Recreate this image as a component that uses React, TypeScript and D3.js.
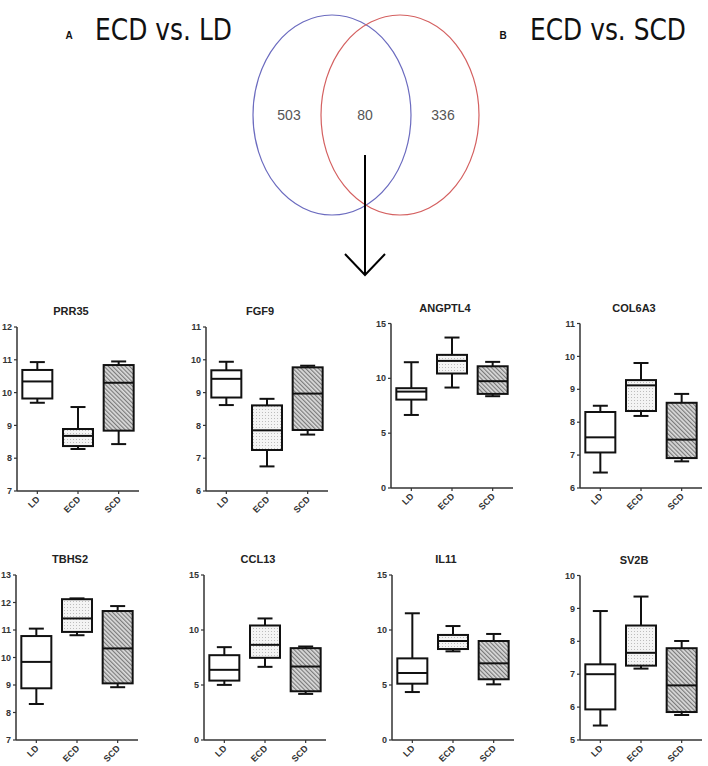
import React from 'react';
import * as d3 from 'd3';

// groups on each x axis
const groups = ['LD', 'ECD', 'SCD'];

// gene names, in reading order
const genes = ['PRR35', 'FGF9', 'ANGPTL4', 'COL6A3', 'TBHS2', 'CCL13', 'IL11', 'SV2B'];

// box stats per group: [min, q1, median, q3, max]
const prr35 = [[9.69, 9.82, 10.34, 10.69, 10.93], [8.28, 8.37, 8.68, 8.89, 9.56], [8.43, 8.84, 10.3, 10.84, 10.95]];
const fgf9 = [[8.62, 8.85, 9.42, 9.68, 9.94], [6.75, 7.25, 7.85, 8.61, 8.81], [7.72, 7.86, 8.97, 9.77, 9.82]];
const angptl4 = [[6.66, 8.06, 8.79, 9.1, 11.47], [9.16, 10.44, 11.59, 12.14, 13.72], [8.37, 8.58, 9.74, 11.1, 11.5]];
const col6a3 = [[6.47, 7.08, 7.54, 8.31, 8.5], [8.19, 8.34, 9.12, 9.28, 9.8], [6.81, 6.91, 7.47, 8.59, 8.86]];
const tbhs2 = [[8.31, 8.88, 9.84, 10.78, 11.05], [10.81, 10.93, 11.42, 12.12, 12.15], [8.92, 9.06, 10.33, 11.69, 11.87]];
const ccl13 = [[5.01, 5.4, 6.38, 7.71, 8.44], [6.65, 7.47, 8.65, 10.41, 11.05], [4.19, 4.43, 6.68, 8.35, 8.5]];
const il11 = [[4.36, 5.12, 6.09, 7.42, 11.52], [8.06, 8.27, 9.0, 9.55, 10.36], [5.06, 5.52, 6.97, 9.0, 9.64]];
const sv2b = [[5.44, 5.93, 7.0, 7.3, 8.92], [7.17, 7.26, 7.65, 8.48, 9.36], [5.76, 5.85, 6.66, 7.79, 8.01]];

const stats = [prr35, fgf9, angptl4, col6a3, tbhs2, ccl13, il11, sv2b];

// y axis ranges and tick steps
const yMin = [7, 6, 0, 6, 7, 0, 0, 5];
const yMax = [12, 11, 15, 11, 13, 15, 15, 10];
const yStep = [1, 1, 5, 1, 1, 5, 5, 1];

// venn counts: only A, overlap, only B
const vennCounts = [503, 80, 336];
const vennTitles = ['ECD vs. LD', 'ECD vs. SCD'];
const vennLetters = ['A', 'B'];

// layout
const axisX = [17, 206, 391, 580, 16, 204, 392, 580];
const axisTop = [327, 327, 323.5, 323.5, 575, 575, 575, 575.5];
const axisBottom = [491, 491, 488, 488, 740, 740, 740, 740];
const axisW = 122;
const boxW = 30;
const capW = 15;
const font = '"Liberation Sans", Arial, sans-serif';
const fills = ['#ffffff', 'url(#dots)', 'url(#hatch)'];

function Panel({ i }: { i: number }) {
  const x0 = axisX[i];
  const top = axisTop[i];
  const bottom = axisBottom[i];
  const y = d3.scaleLinear().domain([yMin[i], yMax[i]]).range([bottom, top]);
  const x = d3.scalePoint().domain(groups).range([x0, x0 + axisW]).padding(0.5);
  const ticks = d3.range(yMin[i], yMax[i] + 0.001, yStep[i]);
  return (
    <g>
      <text x={x0 + 54} y={top - 12} textAnchor="middle" fontFamily={font} fontWeight="bold" fontSize={11} fill="#222">
        {genes[i]}
      </text>
      <line x1={x0} x2={x0} y1={top} y2={bottom} stroke="#333" strokeWidth={1.5} />
      <line x1={x0} x2={x0 + axisW} y1={bottom} y2={bottom} stroke="#333" strokeWidth={1.5} />
      {ticks.map(t => (
        <g key={t}>
          <line x1={x0 - 3} x2={x0} y1={y(t)} y2={y(t)} stroke="#333" strokeWidth={1.2} />
          <text x={x0 - 5} y={y(t)} dy="0.35em" textAnchor="end" fontFamily={font} fontWeight="bold" fontSize={9} fill="#333">
            {t}
          </text>
        </g>
      ))}
      {groups.map((g, k) => {
        const cx = x(g) || 0;
        const [lo, q1, med, q3, hi] = stats[i][k];
        return (
          <g key={g}>
            <line x1={cx} x2={cx} y1={bottom} y2={bottom + 3} stroke="#333" strokeWidth={1.2} />
            <text
              transform={`translate(${cx + 3},${bottom + 9}) rotate(-45)`}
              textAnchor="end"
              fontFamily={font}
              fontWeight="bold"
              fontSize={9}
              fill="#333"
            >
              {g}
            </text>
            <line x1={cx} x2={cx} y1={y(hi)} y2={y(q3)} stroke="#111" strokeWidth={2} />
            <line x1={cx} x2={cx} y1={y(q1)} y2={y(lo)} stroke="#111" strokeWidth={2} />
            <line x1={cx - capW / 2} x2={cx + capW / 2} y1={y(hi)} y2={y(hi)} stroke="#111" strokeWidth={2} />
            <line x1={cx - capW / 2} x2={cx + capW / 2} y1={y(lo)} y2={y(lo)} stroke="#111" strokeWidth={2} />
            <rect x={cx - boxW / 2} y={y(q3)} width={boxW} height={y(q1) - y(q3)} fill={fills[k]} stroke="#111" strokeWidth={2} />
            <line x1={cx - boxW / 2} x2={cx + boxW / 2} y1={y(med)} y2={y(med)} stroke="#111" strokeWidth={2} />
          </g>
        );
      })}
    </g>
  );
}

function Venn() {
  return (
    <g>
      <ellipse cx={332} cy={115} rx={79} ry={100} fill="none" stroke="#6b6bbf" strokeWidth={1.2} />
      <ellipse cx={400} cy={115} rx={79} ry={100} fill="none" stroke="#d46060" strokeWidth={1.2} />
      {[289, 365, 443].map((vx, k) => (
        <text key={k} x={vx} y={115} dy="0.35em" textAnchor="middle" fontFamily={font} fontSize={14} fill="#555">
          {vennCounts[k]}
        </text>
      ))}
      <text x={69} y={39} textAnchor="middle" fontFamily={font} fontWeight="bold" fontSize={10} fill="#111">
        {vennLetters[0]}
      </text>
      <text
        transform="translate(95,40) scale(1,1.2)"
        fontFamily={'"DejaVu Sans", sans-serif'}
        fontSize={25}
        textLength={137}
        lengthAdjust="spacingAndGlyphs"
        fill="#111"
      >
        {vennTitles[0]}
      </text>
      <text x={503} y={39} textAnchor="middle" fontFamily={font} fontWeight="bold" fontSize={10} fill="#111">
        {vennLetters[1]}
      </text>
      <text
        transform="translate(530,40) scale(1,1.2)"
        fontFamily={'"DejaVu Sans", sans-serif'}
        fontSize={25}
        textLength={156}
        lengthAdjust="spacingAndGlyphs"
        fill="#111"
      >
        {vennTitles[1]}
      </text>
      <line x1={365} x2={365} y1={155} y2={275} stroke="#000" strokeWidth={2} />
      <polyline points="345,254 365,275 385,254" fill="none" stroke="#000" strokeWidth={2} />
    </g>
  );
}

export default function App() {
  return (
    <svg width={708} height={766} style={{ position: 'absolute', left: 0, top: 0, background: '#fff' }}>
      <defs>
        <pattern id="dots" width={3} height={3} patternUnits="userSpaceOnUse">
          <rect width={3} height={3} fill="#f4f4f4" />
          <rect x={1} y={1} width={1} height={1} fill="#bdbdbd" />
        </pattern>
        <pattern id="hatch" width={3} height={3} patternUnits="userSpaceOnUse" patternTransform="rotate(-45)">
          <rect width={3} height={3} fill="#dcdcdc" />
          <line x1={0.6} x2={0.6} y1={0} y2={3} stroke="#7a7a7a" strokeWidth={1.2} />
        </pattern>
      </defs>
      <rect width={708} height={766} fill="#fff" />
      <Venn />
      {genes.map((_, i) => (
        <Panel key={i} i={i} />
      ))}
    </svg>
  );
}
